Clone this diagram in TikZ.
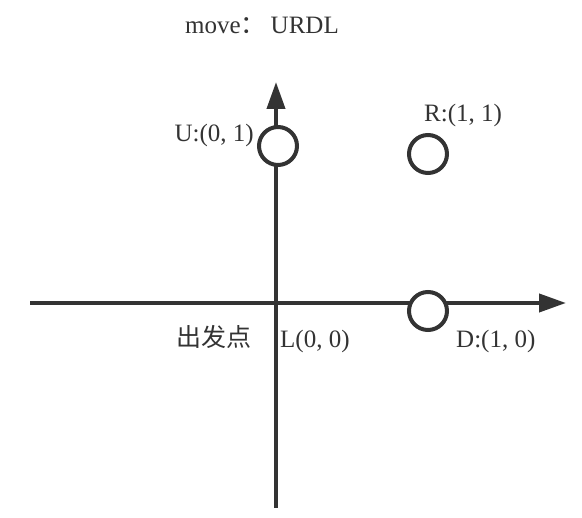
\documentclass[tikz,border=0pt]{standalone}
\usepackage{fontspec}
\setmainfont{Liberation Serif}
\newfontfamily\cjk{Noto Sans CJK SC}
\usetikzlibrary{arrows.meta}
\definecolor{ink}{HTML}{333333}
\tikzset{
  axis/.style={draw=ink, line width=4pt, -{Triangle[length=27pt,width=18pt]}},
  spot/.style={circle, draw=ink, line width=4pt, minimum size=38pt, inner sep=0pt},
  lbl/.style={text=ink, font=\fontsize{25pt}{27pt}\selectfont, inner sep=0pt},
}
\begin{document}
\begin{tikzpicture}[x=1pt,y=-1pt]
\useasboundingbox (0,0) rectangle (582,518);
\coordinate (vb) at (276,508);
\coordinate (vt) at (276,82);
\coordinate (hl) at (30,303);
\coordinate (hr) at (566,303);
\draw[axis] (vb) -- (vt);
\draw[axis] (hl) -- (hr);
\node[spot, fill=white] (u) at (278,146) {};
\node[spot, fill=white] (r) at (428,154) {};
\node[spot, fill=white] (d) at (428,311) {};
\node[lbl, anchor=base west] (title) at (185,34) {move{\cjk ：}\hspace{5pt}URDL};
\node[lbl, anchor=base east] (ul) at (254,142) {U:(0, 1)};
\node[lbl, anchor=base west] (rl) at (424,122) {R:(1, 1)};
\node[lbl, anchor=base west] (ll) at (280,348) {L(0, 0)};
\node[lbl, anchor=base west] (dl) at (456,348) {D:(1, 0)};
\node[lbl, anchor=base west] (start) at (176,347) {\cjk 出发点};
\end{tikzpicture}
\end{document}
